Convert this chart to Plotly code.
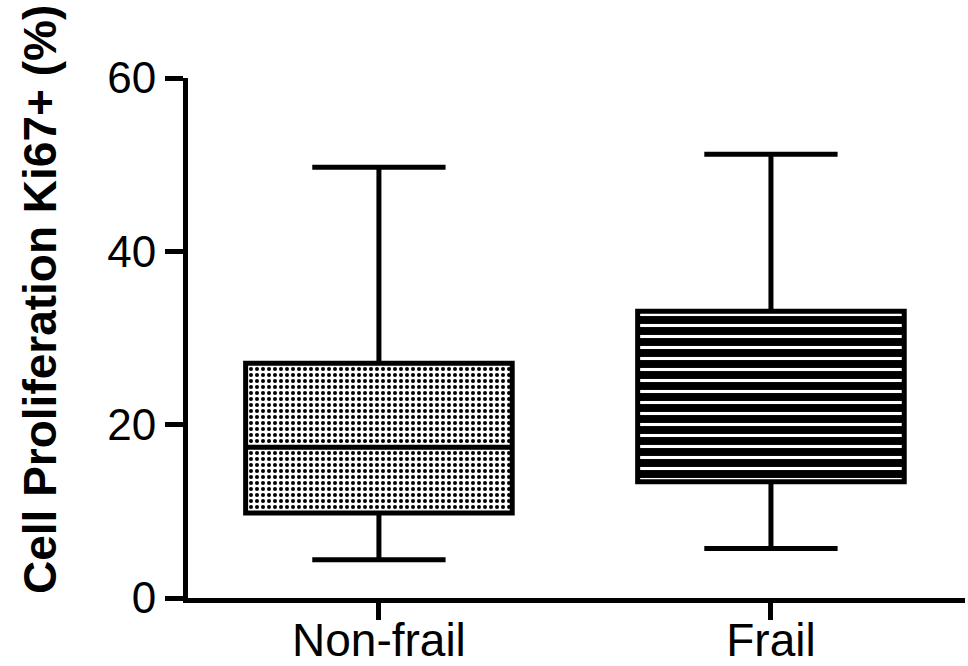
import plotly.graph_objects as go

# Data
categories = ["Non-frail", "Frail"]
lower_whisker = [4.4, 5.7]
q1_values = [9.8, 13.4]
median_values = [17.4, 19.3]
q3_values = [27.1, 33.1]
upper_whisker = [49.7, 51.2]
y_ticks = [0, 20, 40, 60]
y_title = "Cell Proliferation Ki67+ (%)"

BOX_W = 0.68
FONT = "Liberation Sans, Arial, sans-serif"

fig = go.Figure()

# Patterned box bodies (bars from Q1 to Q3)
fig.add_trace(go.Bar(
    x=[categories[0]],
    y=[q3_values[0] - q1_values[0]],
    base=[q1_values[0]],
    width=BOX_W,
    marker=dict(
        color="white",
        line=dict(width=0),
        pattern=dict(shape=".", fillmode="overlay", bgcolor="white",
                     fgcolor="black", fgopacity=1, size=6, solidity=0.35),
    ),
    showlegend=False, hoverinfo="skip",
))
fig.add_trace(go.Bar(
    x=[categories[1]],
    y=[q3_values[1] - q1_values[1]],
    base=[q1_values[1]],
    width=BOX_W,
    marker=dict(
        color="black",
        line=dict(width=0),
        pattern=dict(shape="-", fillmode="overlay", bgcolor="black",
                     fgcolor="white", fgopacity=1, size=11, solidity=0.28),
    ),
    showlegend=False, hoverinfo="skip",
))

# Box outline, median and whiskers
fig.add_trace(go.Box(
    x=categories,
    q1=q1_values,
    median=median_values,
    q3=q3_values,
    lowerfence=lower_whisker,
    upperfence=upper_whisker,
    width=BOX_W,
    whiskerwidth=0.5,
    fillcolor="rgba(0,0,0,0)",
    line=dict(color="black", width=5),
    boxpoints=False,
    showlegend=False,
    hoverinfo="skip",
))

fig.update_layout(
    width=968, height=666,
    margin=dict(l=188, r=3, t=78, b=68),
    paper_bgcolor="white", plot_bgcolor="white",
    barmode="overlay", boxmode="overlay",
    font=dict(family=FONT, color="black"),
    showlegend=False,
)

fig.update_xaxes(
    type="category",
    range=[-0.487, 1.495],
    automargin=False,
    showline=True, linewidth=5, linecolor="black",
    ticks="outside", ticklen=17, tickwidth=5, tickcolor="black",
    ticklabelstandoff=-19,
    tickfont=dict(size=46, family=FONT, color="black"),
    showgrid=False, zeroline=False,
)
fig.update_yaxes(
    range=[0, 60],
    tickvals=y_ticks,
    automargin=False,
    showline=True, linewidth=5, linecolor="black",
    ticks="outside", ticklen=18, tickwidth=5, tickcolor="black",
    tickfont=dict(size=44, family=FONT, color="black"),
    showgrid=False, zeroline=False,
)

fig.add_annotation(
    text=f"<b>{y_title}</b>",
    xref="paper", yref="paper",
    x=(40 - 188) / 777, y=(598 - 300) / 520,
    xanchor="center", yanchor="middle",
    textangle=-90, showarrow=False,
    font=dict(size=46, family=FONT, color="black"),
)

fig.write_html("out.html")
